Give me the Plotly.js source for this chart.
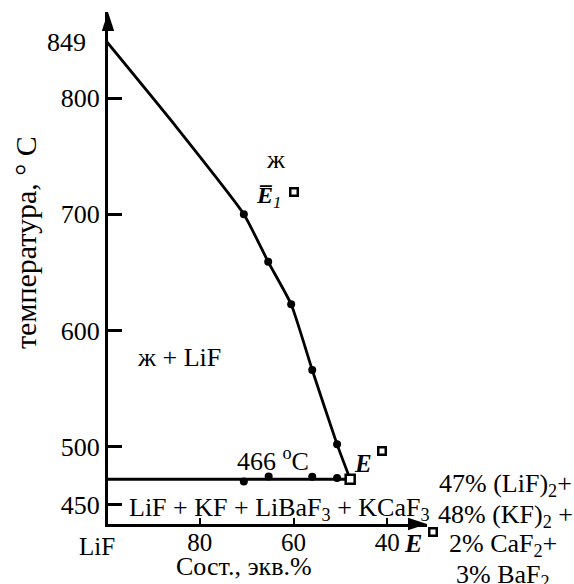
<!DOCTYPE html>
<html>
<head>
<meta charset="utf-8">
<script src="https://cdn.plot.ly/plotly-3.0.1.min.js"></script>
<style>html,body{margin:0;padding:0;background:#fff;}</style>
</head>
<body>
<div id="chart" style="width:574px;height:584px;"></div>
<script>
// ---- data ----
const liquidusComp = [100, 85, 70.6, 65.4, 60.5, 56.0, 50.7, 47.9];
const liquidusTemp = [849, 775, 700, 659, 622.5, 566, 502, 472];
const liquidusDotComp = [100, 70.6, 65.4, 60.5, 56.0, 50.7];
const liquidusDotTemp = [849, 700, 659, 622.5, 566, 502];
const eutecticLineComp = [100, 47.9];
const eutecticLineTemp = [472, 472];
const eutecticDotComp = [70.6, 65.3, 56.0, 50.7];
const eutecticDotTemp = [470, 474.3, 474.2, 473];
const eutecticPointComp = [47.9];
const eutecticPointTemp = [472];
const xTickVals = [80, 60, 40];
const xTickText = ['80', '60', '40'];
const yTickVals = [450, 500, 600, 700, 800];
const yTickText = ['450', '500', '600', '700', '800'];

// ---- layout constants ----
const F = 'Liberation Serif';
const W = 574, H = 584;
const M = {l: 108, r: 147, t: 12, b: 60};
const PW = W - M.l - M.r, PH = H - M.t - M.b;
const xRange = [99.6, 31.5];
const yRange = [433.45, 874];
// pixel position of a label -> paper coordinates
const PX = p => (p - M.l) / PW;
const PY = p => (M.t + PH - p) / PH;

const traces = [
  {x: liquidusComp, y: liquidusTemp, mode: 'lines', line: {color: '#000', width: 2.8, shape: 'spline', smoothing: 0.5}, hoverinfo: 'skip'},
  {x: eutecticLineComp, y: eutecticLineTemp, mode: 'lines', line: {color: '#000', width: 3}, hoverinfo: 'skip'},
  {x: liquidusDotComp, y: liquidusDotTemp, mode: 'markers', marker: {color: '#000', size: 8}, cliponaxis: false},
  {x: eutecticDotComp, y: eutecticDotTemp, mode: 'markers', marker: {color: '#000', size: 8}},
  {x: eutecticPointComp, y: eutecticPointTemp, mode: 'markers', marker: {symbol: 'square', color: '#fff', size: 9, line: {color: '#000', width: 2.5}}},
  // axis arrow heads at the axis ends
  {x: [xRange[0], xRange[1]], y: [yRange[1], yRange[0]], mode: 'markers', cliponaxis: false,
   marker: {symbol: 'arrow', angle: [0, 90], size: 20, color: '#000', line: {width: 0}}, hoverinfo: 'skip'}
];

function ann(px, py, text, size, extra) {
  return Object.assign({x: PX(px), y: PY(py), xref: 'paper', yref: 'paper', text: text, showarrow: false,
    font: {family: F, size: size || 26, color: '#000'}, xanchor: 'center', yanchor: 'middle'}, extra || {});
}
function box(px, py) {
  return {x: PX(px), y: PY(py), xref: 'paper', yref: 'paper', text: ' ', showarrow: false,
    width: 5, height: 5, borderpad: 0, borderwidth: 2.5, bordercolor: '#000', bgcolor: '#fff',
    font: {family: F, size: 4, color: '#000'}, xanchor: 'center', yanchor: 'middle'};
}

const annotations = [
  ann(88, 42.5, '849', 26, {xanchor: 'right'}),
  ann(96.5, 546, 'LiF', 25),
  ann(276, 159, 'ж'),
  ann(268, 197, '<b><i>E̅</i></b><i><sub>1</sub></i>', 24),
  box(293.5, 192),
  ann(178.5, 357.5, 'ж + LiF'),
  ann(272.5, 459, '466 <sup>o</sup>C'),
  ann(363, 463.3, '<b><i>E</i></b>', 25),
  box(382, 451),
  ann(279.5, 509, 'LiF + KF + LiBaF<sub>3</sub> + KCaF<sub>3</sub>'),
  ann(413, 543, '<b><i>E</i></b>', 26),
  box(432.7, 532.3),
  ann(505, 485, '47% (LiF)<sub>2</sub>+'),
  ann(505, 516, '48% (KF)<sub>2</sub> +'),
  ann(503, 545, '2% CaF<sub>2</sub>+'),
  ann(503, 576, '3% BaF<sub>2</sub>'),
  ann(244, 566, 'Сост., экв.%'),
  ann(25, 242, 'температура, ° C', 30, {textangle: -90})
];

const layout = {
  width: W, height: H,
  margin: M,
  paper_bgcolor: '#fff', plot_bgcolor: '#fff',
  showlegend: false,
  xaxis: {range: xRange, showgrid: false, zeroline: false, showline: true, linecolor: '#000', linewidth: 3,
          ticks: 'inside', ticklen: 6, tickwidth: 2, tickcolor: '#000',
          tickvals: xTickVals, ticktext: xTickText, tickfont: {family: F, size: 25, color: '#000'}, ticklabelstandoff: -6},
  yaxis: {range: yRange, showgrid: false, zeroline: false, showline: true, linecolor: '#000', linewidth: 3,
          ticks: 'inside', ticklen: 14, tickwidth: 3, tickcolor: '#000',
          tickvals: yTickVals, ticktext: yTickText, tickfont: {family: F, size: 26, color: '#000'}},
  annotations: annotations
};

Plotly.newPlot('chart', traces, layout, {staticPlot: true, displayModeBar: false});
</script>
</body>
</html>
